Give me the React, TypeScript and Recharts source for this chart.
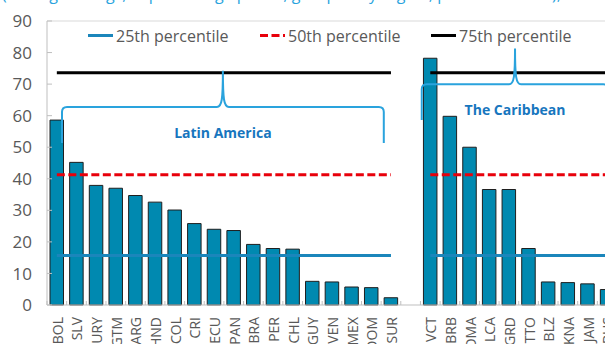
import React from 'react';
import {
  ComposedChart,
  Bar,
  Line,
  XAxis,
  YAxis,
  ReferenceLine,
  ReferenceArea,
  Legend,
} from 'recharts';

// Latin America, sorted from highest to lowest
const LATAM_CODES = ['BOL', 'SLV', 'URY', 'GTM', 'ARG', 'HND', 'COL', 'CRI', 'ECU', 'PAN', 'BRA', 'PER', 'CHL', 'GUY', 'VEN', 'MEX', 'DOM', 'SUR'];
const LATAM_VALUES = [58.6, 45.2, 37.9, 37.0, 34.7, 32.6, 30.1, 25.8, 24.0, 23.6, 19.2, 17.9, 17.7, 7.5, 7.3, 5.7, 5.5, 2.3];

// The Caribbean, sorted from highest to lowest
const CARIB_CODES = ['VCT', 'BRB', 'DMA', 'LCA', 'GRD', 'TTO', 'BLZ', 'KNA', 'JAM', 'BHS'];
const CARIB_VALUES = [78.2, 59.8, 50.0, 36.6, 36.6, 17.9, 7.3, 7.1, 6.7, 4.9];

// Percentiles of the whole sample
const P25 = 15.7;
const P50 = 41.3;
const P75 = 73.6;

const Y_TICKS = [0, 10, 20, 30, 40, 50, 60, 70, 80, 90];

const SERIES = [
  { key: 'p25', name: '25th percentile', color: '#1B86BB', dash: undefined as string | undefined },
  { key: 'p50', name: '50th percentile', color: '#E8000B', dash: '8 3.5' },
  { key: 'p75', name: '75th percentile', color: '#000000', dash: undefined as string | undefined },
];

// Group braces: [first code, last code, bottom value, top value, label]
const BRACE_LATAM = { from: 'BOL', to: 'SUR', y1: 51.3, y2: 74.2, label: 'Latin America' };
const BRACE_CARIB = { from: 'VCT', to: 'BHS', y1: 58.6, y2: 81.3, label: 'The Caribbean' };

type Row = { code: string; value: number | null; p25: number | null; p50: number | null; p75: number | null };

const groupRows = (codes: string[], values: number[]): Row[] =>
  codes.map((code, i) => ({ code, value: values[i], p25: P25, p50: P50, p75: P75 }));

const data: Row[] = [
  ...groupRows(LATAM_CODES, LATAM_VALUES),
  { code: '', value: null, p25: null, p50: null, p75: null },
  ...groupRows(CARIB_CODES, CARIB_VALUES),
];

const FONT = "'Open Sans', sans-serif";
const GRAY_TEXT = '#595959';
const AXIS_GRAY = '#BFBFBF';

const CHART_W = 617;
const CHART_H = 344;
const Y_AXIS_W = 47;
const X_AXIS_H = 39;
const BAND = (CHART_W - Y_AXIS_W) / data.length;

const XTick = (props: any) => {
  const { x, y, payload } = props;
  const bx = x - BAND / 2;
  return (
    <g>
      <line x1={bx} x2={bx} y1={y} y2={y - 4} stroke={AXIS_GRAY} strokeWidth={1} />
      {payload.value ? (
        <text
          transform={`translate(${x + 6},${y + 12}) rotate(-90)`}
          textAnchor="end"
          fontSize={14}
          fontFamily={FONT}
          fill={GRAY_TEXT}
        >
          {payload.value}
        </text>
      ) : null}
    </g>
  );
};

const YTick = (props: any) => {
  const { x, y, payload } = props;
  return (
    <g>
      <line x1={x} x2={x + 5} y1={y} y2={y} stroke={AXIS_GRAY} strokeWidth={1} />
      <text x={x - 15} y={y} dy="0.36em" textAnchor="end" fontSize={17} fontFamily={FONT} fill={GRAY_TEXT}>
        {payload.value}
      </text>
    </g>
  );
};

const Brace = (props: any) => {
  const { x, y, width, height, label, insetL, insetR } = props;
  const x0 = x + insetL;
  const x1 = x + width - insetR;
  const cx = (x0 + x1) / 2;
  const yt = y;
  const yb = y + height;
  const ym = (yt + yb) / 2;
  const r = 5;
  const d =
    `M${x0},${yb} L${x0},${ym + r} Q${x0},${ym} ${x0 + r},${ym} ` +
    `L${cx - 6},${ym} C${cx - 1},${ym} ${cx},${ym - 8} ${cx},${yt} ` +
    `C${cx},${ym - 8} ${cx + 1},${ym} ${cx + 6},${ym} ` +
    `L${x1 - r},${ym} Q${x1},${ym} ${x1},${ym + r} L${x1},${yb}`;
  return (
    <g>
      <path d={d} fill="none" stroke="#2AA3DD" strokeWidth={2} />
      <text x={cx} y={ym + 31} textAnchor="middle" fontWeight={700} fontSize={14} fontFamily={FONT} fill="#1776BE">
        {label}
      </text>
    </g>
  );
};

const LEGEND_X = [88, 260, 431];

const LegendBox = () => (
  <svg width={605} height={50} style={{ display: 'block' }}>
    {SERIES.map((s, i) => (
      <g key={s.key}>
        <line
          x1={LEGEND_X[i]}
          x2={LEGEND_X[i] + 25}
          y1={35.5}
          y2={35.5}
          stroke={s.color}
          strokeWidth={3}
          strokeDasharray={s.dash}
        />
        <text x={LEGEND_X[i] + 28} y={42.3} fontSize={16} fontFamily={FONT} fill={GRAY_TEXT}>
          {s.name}
        </text>
      </g>
    ))}
  </svg>
);

export default function App() {
  return (
    <div
      style={{
        position: 'absolute',
        left: 0,
        top: 0,
        width: 605,
        height: 344,
        overflow: 'hidden',
        background: '#fff',
      }}
    >
      <div
        style={{
          position: 'absolute',
          left: 2,
          top: -14,
          fontFamily: FONT,
          fontSize: 16,
          lineHeight: '16px',
          color: '#2AA3DD',
          whiteSpace: 'nowrap',
        }}
      >
        (Average ratings, in percentage points; grouped by region, percent of total), 2016
      </div>
      <ComposedChart
        width={CHART_W}
        height={CHART_H}
        data={data}
        margin={{ top: 21, right: 0, bottom: 0, left: 0 }}
        barSize={13.5}
      >
        <XAxis
          dataKey="code"
          interval={0}
          height={X_AXIS_H}
          tickSize={0}
          tickMargin={0}
          tickLine={false}
          axisLine={{ stroke: AXIS_GRAY }}
          tick={<XTick />}
        />
        <YAxis
          width={Y_AXIS_W}
          domain={[0, 90]}
          ticks={Y_TICKS}
          tickSize={0}
          tickMargin={0}
          tickLine={false}
          axisLine={{ stroke: AXIS_GRAY }}
          tick={<YTick />}
        />
        <ReferenceLine y={90} stroke="#D9D9D9" />
        <Bar
          dataKey="value"
          fill="#0089B0"
          stroke="#1F1F1F"
          strokeWidth={1}
          legendType="none"
          isAnimationActive={false}
        />
        {SERIES.map((s) => (
          <Line
            key={s.key}
            dataKey={s.key}
            name={s.name}
            stroke={s.color}
            strokeWidth={3}
            strokeDasharray={s.dash}
            dot={false}
            activeDot={false}
            connectNulls={false}
            type="linear"
            isAnimationActive={false}
          />
        ))}
        <ReferenceArea
          x1={BRACE_LATAM.from}
          x2={BRACE_LATAM.to}
          y1={BRACE_LATAM.y1}
          y2={BRACE_LATAM.y2}
          ifOverflow="visible"
          zIndex={1500}
          shape={(p: any) => <Brace {...p} label={BRACE_LATAM.label} insetL={15} insetR={17} />}
        />
        <ReferenceArea
          x1={BRACE_CARIB.from}
          x2={BRACE_CARIB.to}
          y1={BRACE_CARIB.y1}
          y2={BRACE_CARIB.y2}
          ifOverflow="visible"
          zIndex={1500}
          shape={(p: any) => <Brace {...p} label={BRACE_CARIB.label} insetL={1.3} insetR={8.7} />}
        />
        <Legend
          layout="horizontal"
          verticalAlign="middle"
          align="center"
          wrapperStyle={{ top: 0, left: 0, width: 605, height: 50 }}
          content={() => <LegendBox />}
        />
      </ComposedChart>
    </div>
  );
}
